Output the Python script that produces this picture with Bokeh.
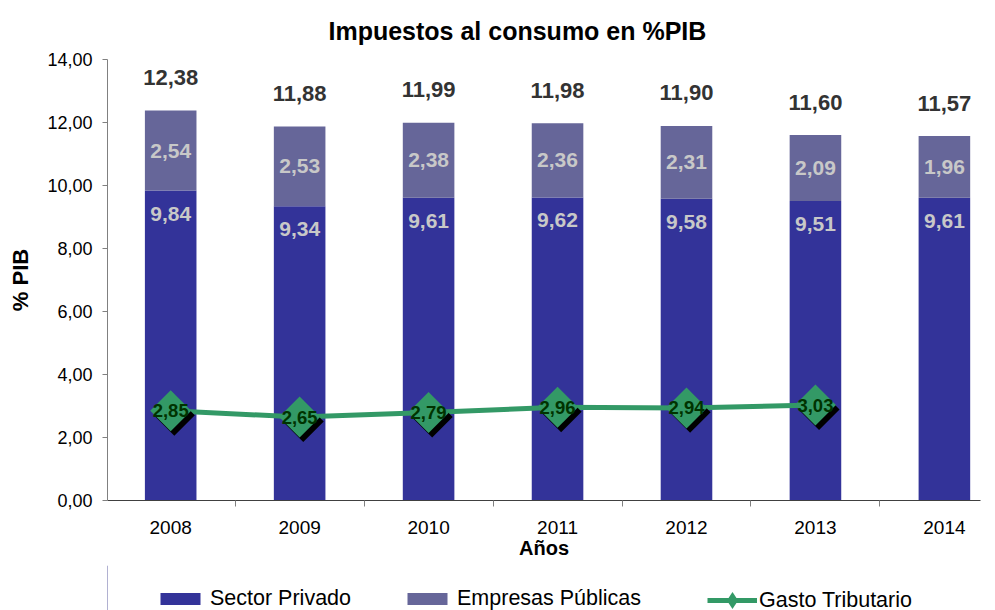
import math
from bokeh.plotting import figure
from bokeh.layouts import column
from bokeh.models import (ColumnDataSource, FixedTicker, CustomJSTickFormatter,
                          Legend, LegendItem, Range1d)
from bokeh.transform import dodge
from bokeh.core.properties import value
from bokeh.embed import file_html
from bokeh.resources import INLINE

# ---- data ----
years = [2008, 2009, 2010, 2011, 2012, 2013, 2014]
sector_privado = [9.84, 9.34, 9.61, 9.62, 9.58, 9.51, 9.61]
empresas_publicas = [2.54, 2.53, 2.38, 2.36, 2.31, 2.09, 1.96]
totales = [12.38, 11.88, 11.99, 11.98, 11.90, 11.60, 11.57]
gasto_years = [2008, 2009, 2010, 2011, 2012, 2013]
gasto_tributario = [2.85, 2.65, 2.79, 2.96, 2.94, 3.03]
y_ticks = [0, 2, 4, 6, 8, 10, 12, 14]
series_names = ["Sector Privado", "Empresas Públicas", "Gasto Tributario"]


def fmt(v):
    return f"{v:.2f}".replace(".", ",")


FONT = "'Liberation Sans', Arial, sans-serif"
C_PRIV = "#333399"
C_PUB = "#666699"
C_GASTO = "#339966"

bars = ColumnDataSource(dict(
    x=years,
    priv=sector_privado,
    pub=empresas_publicas,
    stack_top=[a + b for a, b in zip(sector_privado, empresas_publicas)],
    pub_mid=[a + b / 2 for a, b in zip(sector_privado, empresas_publicas)],
    total=totales,
    priv_lbl=[fmt(v) for v in sector_privado],
    pub_lbl=[fmt(v) for v in empresas_publicas],
    total_lbl=[fmt(v) for v in totales],
))
gasto = ColumnDataSource(dict(
    x=gasto_years,
    y=gasto_tributario,
    lbl=[fmt(v) for v in gasto_tributario],
))

p = figure(width=995, height=565, output_backend="svg", toolbar_location=None,
           x_range=Range1d(2007.51, 2014.28), y_range=Range1d(0, 14),
           min_border_left=107, min_border_right=15, min_border_top=59,
           min_border_bottom=65)
p.outline_line_color = None
p.grid.visible = False
p.background_fill_color = "white"
p.border_fill_color = "white"

p.title.text = "Impuestos al consumo en %PIB"
p.title.align = "left"
p.title.offset = 221
p.title.text_font = FONT
p.title.text_font_size = "25px"
p.title.text_font_style = "bold"
p.title.text_color = "black"
p.title.standoff = 29

# axes
p.yaxis.ticker = FixedTicker(ticks=y_ticks)
p.yaxis.formatter = CustomJSTickFormatter(code="return tick.toFixed(2).replace('.', ',');")
p.yaxis.bounds = (0, 14)
p.yaxis.axis_label = "% PIB"
p.yaxis.axis_label_text_font = FONT
p.yaxis.axis_label_text_font_size = "22px"
p.yaxis.axis_label_text_font_style = "bold"
p.yaxis.axis_label_text_color = "black"
p.yaxis.axis_label_standoff = 11
p.yaxis.major_label_text_font = FONT
p.yaxis.major_label_text_font_size = "18px"
p.yaxis.major_label_text_color = "black"
p.yaxis.major_label_standoff = 10
p.yaxis.axis_line_color = "#808080"
p.yaxis.major_tick_line_color = "#808080"
p.yaxis.major_tick_in = 0
p.yaxis.major_tick_out = 5
p.yaxis.minor_tick_line_color = None

p.xaxis.ticker = FixedTicker(ticks=years,
                             minor_ticks=[y - 0.5 for y in years] + [years[-1] + 0.5])
p.xaxis.axis_label = "Años"
p.xaxis.axis_label_text_font = FONT
p.xaxis.axis_label_text_font_size = "20px"
p.xaxis.axis_label_text_font_style = "bold"
p.xaxis.axis_label_text_color = "black"
p.xaxis.axis_label_standoff = 0
p.xaxis.major_label_text_font = FONT
p.xaxis.major_label_text_font_size = "19px"
p.xaxis.major_label_text_color = "black"
p.xaxis.major_label_standoff = 14
p.xaxis.major_tick_line_color = None
p.xaxis.minor_tick_line_color = "#808080"
p.xaxis.minor_tick_in = 0
p.xaxis.minor_tick_out = 6
p.xaxis.axis_line_color = "#404040"

# bars
p.vbar(x="x", bottom=0, top="priv", width=0.4, source=bars,
       fill_color=C_PRIV, line_color=None)
p.vbar(x="x", bottom="priv", top="stack_top", width=0.4, source=bars,
       fill_color=C_PUB, line_color=None)

# bar labels
p.text(x="x", y="priv", text="priv_lbl", source=bars, y_offset=23,
       text_align="center", text_baseline="middle", text_font=value(FONT),
       text_font_size="21px", text_font_style="bold", text_color="#C8C8C8")
p.text(x="x", y="pub_mid", text="pub_lbl", source=bars,
       text_align="center", text_baseline="middle", text_font=value(FONT),
       text_font_size="21px", text_font_style="bold", text_color="#C8C8C8")
p.text(x="x", y="total", text="total_lbl", source=bars, y_offset=-33,
       text_align="center", text_baseline="middle", text_font=value(FONT),
       text_font_size="22px", text_font_style="bold", text_color="#333333")

# gasto tributario line
p.line(x="x", y="y", source=gasto, line_color=C_GASTO, line_width=5)
p.scatter(x=dodge("x", 0.028, range=p.x_range), y=dodge("y", -0.14, range=p.y_range),
          source=gasto, marker="square", angle=math.pi / 4, size=29,
          fill_color="black", line_color=None)
p.scatter(x="x", y="y", source=gasto, marker="square", angle=math.pi / 4,
          size=29, fill_color=C_GASTO, line_color=None)
p.text(x="x", y="y", text="lbl", source=gasto,
       text_align="center", text_baseline="middle", text_font=value(FONT),
       text_font_size="18.5px", text_font_style="bold", text_color="#003300")

# ---- legend strip (separate figure below the chart) ----
lp = figure(width=995, height=45, output_backend="svg", toolbar_location=None,
            x_range=Range1d(0, 1), y_range=Range1d(0, 1),
            x_axis_type=None, y_axis_type=None,
            min_border_left=0, min_border_right=0, min_border_top=0, min_border_bottom=0)
lp.outline_line_color = None
lp.outline_line_alpha = 0
lp.grid.visible = False
lp.background_fill_color = "white"
lp.border_fill_color = "white"

# legend proxies placed outside the visible range
lr_priv = lp.vbar(x=[-10], top=[1], width=0.4, fill_color=C_PRIV, line_color=None)
lr_pub = lp.vbar(x=[-10], top=[1], width=0.4, fill_color=C_PUB, line_color=None)
lr_line = lp.line(x=[-10, -9], y=[0, 0], line_color=C_GASTO, line_width=5)
lr_mark = lp.scatter(x=[-10], y=[0], marker="diamond", fill_color=C_GASTO, line_color=None)


def style_legend(lg):
    lg.border_line_color = None
    lg.background_fill_alpha = 0
    lg.label_text_font = FONT
    lg.label_text_font_size = "21.5px"
    lg.label_text_color = "black"
    lg.glyph_width = 50
    lg.label_standoff = 5
    lg.padding = 0
    lg.margin = 0
    lg.orientation = "horizontal"


legend_bars = Legend(items=[
    LegendItem(label=series_names[0], renderers=[lr_priv]),
    LegendItem(label=series_names[1], renderers=[lr_pub]),
], location=(48, -1))
style_legend(legend_bars)
legend_bars.glyph_height = 15
legend_bars.label_height = 15
legend_bars.spacing = 51

legend_line = Legend(items=[
    LegendItem(label=series_names[2], renderers=[lr_line, lr_mark]),
], location=(600, -11))
style_legend(legend_line)
legend_line.glyph_height = 42
legend_line.label_standoff = 2

lp.add_layout(legend_bars, "center")
lp.add_layout(legend_line, "center")

open("out.html", "w").write(file_html(column(p, lp, spacing=0), INLINE))
